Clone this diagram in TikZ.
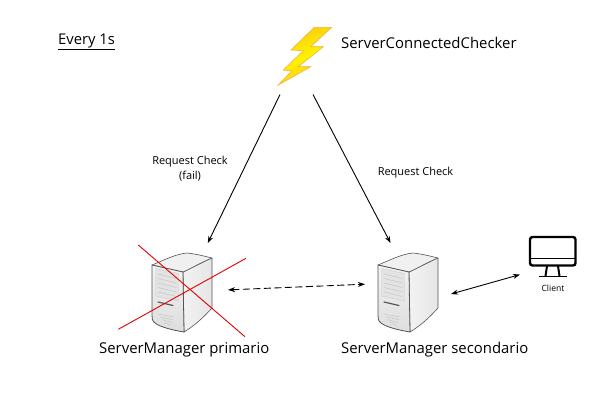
\documentclass[tikz,border=0pt]{standalone}
\usepackage{fontspec}
\setmainfont{Open Sans}
\usetikzlibrary{arrows.meta}
\definecolor{srvedge}{HTML}{555555}
\definecolor{boltedge}{HTML}{F5B03A}
\definecolor{boltmid}{HTML}{FFF200}
\definecolor{boltside}{HTML}{FBCB10}
\tikzset{
  x=1pt,y=-1pt,
  iconbox/.style={inner sep=0pt,outer sep=0pt,minimum width=#1},
  bigtext/.style={font=\fontsize{14.9}{18}\selectfont,inner sep=0pt,anchor=base west},
  smalltext/.style={font=\fontsize{11}{15.5}\selectfont,inner sep=0pt,align=center},
  link/.style={draw=black,line width=0.9pt,-{Stealth[length=7pt,width=5pt]}},
  biglink/.style={link,{Stealth[length=7pt,width=5pt]}-{Stealth[length=7pt,width=5pt]}},
  dashlink/.style={biglink,dash pattern=on 7pt off 3.5pt},
  crossline/.style={draw=red!90!black,line width=0.9pt},
  clientstroke/.style={draw=black,line width=2.4pt},
}
\newcommand{\serverart}{%
  % right face
  \shade[left color=gray!10,right color=gray!20,draw=srvedge,line width=0.6pt,line join=round]
    (183,272) .. controls (192,268) and (202,262) .. (212,258) -- (212,308) .. controls (203,318) and (194,326) .. (184,332) -- cycle;
  % top
  \fill[gray!12,draw=srvedge,line width=0.6pt,line join=round]
    (152,265) .. controls (164,260) and (176,254) .. (187,253) .. controls (196,254) and (204,256) .. (212,258) .. controls (202,262) and (192,268) .. (183,272) .. controls (172,270) and (162,267) .. (152,265) -- cycle;
  % front
  \shade[top color=gray!10,bottom color=gray!26,draw=srvedge,line width=0.8pt,line join=round]
    (152,265) -- (183,272) -- (184,332) .. controls (172,330) and (160,327) .. (155,323) .. controls (152,321) and (152,318) .. (152,315) -- cycle;
  % bay panel
  \fill[gray!22,draw=gray!40,line width=0.4pt] (155.7,268.5) -- (178.5,273.5) -- (178.5,301) -- (155.7,296) -- cycle;
  \foreach \k in {0,1,2,3,4}
    \draw[gray!45,line width=0.5pt] (158,{274+\k*4.5}) -- (176.5,{278.5+\k*4.5});
  % slot
  \draw[gray!70!black,line width=1.2pt,line cap=round] (158,302) -- (173,305.5);
  % vents
  \foreach \k/\a/\b in {0/158/174,1/160/173,2/162/172,3/164/171}
    \draw[gray!45,line width=0.5pt] (\a,{314+\k*2.8}) -- (\b,{317+\k*2.8});
}
\begin{document}
\begin{tikzpicture}
\useasboundingbox (0,0) rectangle (600,400);
% icon nodes (invisible boxes around the icons)
\node[iconbox=33pt,minimum height=52pt] (check) at (296.5,68.5) {};
\node[iconbox=92pt,minimum height=97pt] (primary) at (182,291.5) {};
\node[iconbox=86pt,minimum height=96pt] (secondary) at (408,291) {};
\node[iconbox=66pt,minimum height=44pt] (client) at (553,257) {};
% bolt
\shade[left color=boltside,right color=boltside,middle color=boltmid,shading angle=20,draw=boltedge,line width=0.6pt,line join=miter]
  (314.3,27.3) -- (331.7,27.3) -- (310.7,46.7) -- (323.3,46.7) -- (298.3,66.7) -- (310.7,66.7) -- (278.3,85) -- (291.7,71) -- (283.3,70) -- (303.3,50.7) -- (291,50) -- cycle;
% servers
\serverart
\begin{scope}[shift={(226,0)}]
\serverart
\end{scope}
% client icon
\draw[clientstroke,rounded corners=2.5pt] (530,237) rectangle (575.5,265.5);
\draw[black,line width=1.8pt] (530,258.5) -- (575.5,258.5);
\draw[black,line width=2pt] (547,266) -- (545.5,276) (558,266) -- (559.5,276);
\draw[black,line width=1.8pt] (539,276.5) -- (567,276.5);
% text
\node[bigtext] (every) at (58,44) {\fontsize{14.8}{17}\selectfont\underline{Every 1s}};
\node[bigtext] (checkname) at (341,48.5) {ServerConnectedChecker};
\node[bigtext] (primaryname) at (99,353) {ServerManager primario};
\node[bigtext] (secondaryname) at (341,353) {ServerManager secondario};
\node[smalltext] (lblfail) at (190,168.5) {Request Check\\(fail)};
\node[smalltext] (lblok) at (415.5,173) {Request Check};
\node[font=\fontsize{8.6}{10}\selectfont,inner sep=0pt] (clientname) at (553,288.5) {Client};
% connectors
\draw[link] (check.south west) -- (primary.62.7);
\draw[link] (check.south east) -- (secondary.110.6);
\draw[dashlink] (primary.2) -- (secondary.171);
\draw[biglink] (secondary.-4) -- (client.208.6);
% red cross
\coordinate (ca) at (138.3,245);
\coordinate (cb) at (245,336.7);
\coordinate (cc) at (118.3,329.3);
\coordinate (cd) at (246,258.3);
\draw[crossline] (ca) -- (cb);
\draw[crossline] (cc) -- (cd);
\end{tikzpicture}
\end{document}
